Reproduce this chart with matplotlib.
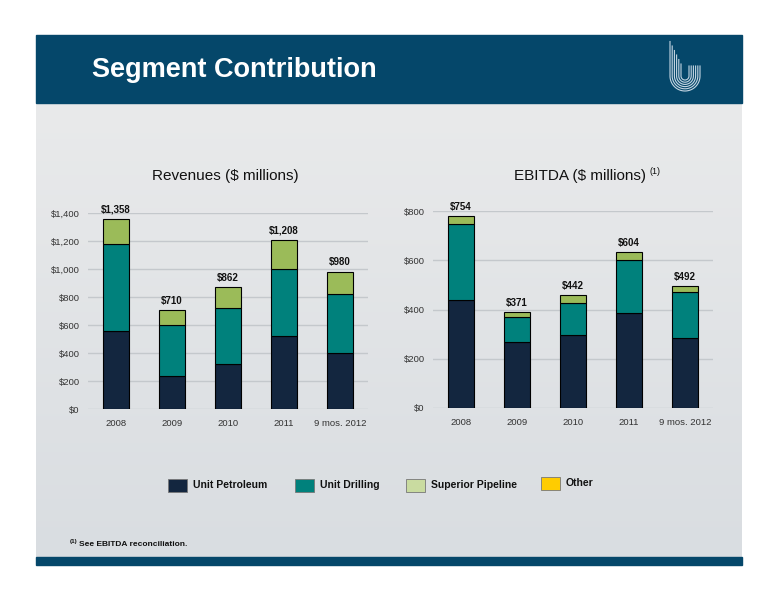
import numpy as np
import matplotlib.pyplot as plt
from matplotlib.patches import Rectangle
from matplotlib.colors import LinearSegmentedColormap

# data
years = ['2008', '2009', '2010', '2011', '9 mos. 2012']

rev_petroleum = [555, 236, 322, 520, 398]
rev_drilling = [623, 363, 398, 482, 422]
rev_pipeline = [182, 111, 155, 207, 163]
rev_labels = ['$1,358', '$710', '$862', '$1,208', '$980']

ebitda_petroleum = [440, 269, 298, 387, 283]
ebitda_drilling = [307, 99, 128, 214, 187]
ebitda_pipeline = [33, 22, 32, 33, 24]
ebitda_labels = ['$754', '$371', '$442', '$604', '$492']

rev_ticks = [0, 200, 400, 600, 800, 1000, 1200, 1400]
ebitda_ticks = [0, 200, 400, 600, 800]

legend_names = ['Unit Petroleum', 'Unit Drilling', 'Superior Pipeline', 'Other']

NAVY = '#13263f'
TEAL = '#00817c'
GREEN = '#9bbb59'
LIGHT_GREEN = '#c9dba0'
GOLD = '#ffcc00'
HEADER = '#05476a'

plt.rcParams['font.family'] = ['Liberation Sans', 'DejaVu Sans']

W, H = 776, 600
fig = plt.figure(figsize=(W / 100, H / 100), dpi=100)
fig.patch.set_facecolor('white')

# page background, drawn in pixel coordinates
bg = fig.add_axes([0, 0, 1, 1])
bg.set_xlim(0, W)
bg.set_ylim(H, 0)
bg.axis('off')

grad = np.linspace(0, 1, 200).reshape(-1, 1)
bg.imshow(grad, cmap=LinearSegmentedColormap.from_list('g', ['#e9eaeb', '#d9dde1']),
          extent=[36, 742, 557, 103], aspect='auto', zorder=0)
bg.add_patch(Rectangle((36, 35), 706, 68, color=HEADER, zorder=1))
bg.add_patch(Rectangle((36, 557), 706, 8, color=HEADER, zorder=1))
bg.text(92, 70, 'Segment Contribution', color='white', fontsize=19.5,
        fontweight='bold', va='center', ha='left', zorder=2)

# logo: nested U shapes
cx, cy = 685, 76
for i in range(6):
    r = 4 + i * 2.2
    t = np.linspace(np.pi, 2 * np.pi, 40)
    xs = np.concatenate([[cx - r, cx - r], cx + r * np.cos(t), [cx + r, cx + r]])
    ys = np.concatenate([[cy - 12 - i * 4.5, cy], cy - r * np.sin(t), [cy, cy - 10]])
    bg.plot(xs, ys, color='#c5d6e3', lw=0.8, zorder=2)

# chart titles
bg.text(225, 176, 'Revenues ($ millions)', fontsize=11, ha='center', va='center', color='#111111')
bg.text(580, 176, 'EBITDA ($ millions)', fontsize=11, ha='center', va='center', color='#111111')
bg.text(649, 171, '(1)', fontsize=6.5, ha='left', va='center', color='#111111')

# legend
leg_x = [168, 295, 406, 541]
leg_colors = [NAVY, TEAL, LIGHT_GREEN, GOLD]
leg_y = [485, 485, 485, 483]
for x, c, y, name in zip(leg_x, leg_colors, leg_y, legend_names):
    bg.add_patch(Rectangle((x, y - 6.5), 19, 13, facecolor=c, edgecolor='#777777', lw=0.6, zorder=2))
    bg.text(x + 25, y, name, fontsize=7.5, fontweight='bold', va='center', ha='left', color='#111111')

# footnote
bg.text(70, 541, '(1)', fontsize=4.5, fontweight='bold', va='center', color='#111111')
bg.text(79, 544, 'See EBITDA reconciliation.', fontsize=6, fontweight='bold', va='center', color='#111111')


def stacked(ax, petroleum, drilling, pipeline, labels, ticks):
    x = np.arange(len(years))
    p = np.array(petroleum)
    d = np.array(drilling)
    s = np.array(pipeline)
    kw = dict(width=0.48, edgecolor='black', linewidth=0.8, zorder=3)
    ax.bar(x, p, color=NAVY, **kw)
    ax.bar(x, d, bottom=p, color=TEAL, **kw)
    ax.bar(x, s, bottom=p + d, color=GREEN, **kw)
    for xi, top, lab in zip(x, p + d + s, labels):
        ax.annotate(lab, (xi, top), xytext=(0, 3), textcoords='offset points',
                    ha='center', va='bottom', fontsize=7, fontweight='bold',
                    color='#111111', annotation_clip=False)
    ax.set_xlim(-0.5, 4.5)
    ax.set_ylim(0, ticks[-1])
    ax.set_yticks(ticks)
    ax.set_yticklabels(['${:,}'.format(t) for t in ticks])
    ax.set_xticks(x)
    ax.set_xticklabels(years)
    ax.tick_params(length=0, labelsize=6.8, colors='#333333')
    ax.tick_params(axis='x', pad=7)
    ax.tick_params(axis='y', pad=6)
    ax.set_facecolor('none')
    for sp in ax.spines.values():
        sp.set_visible(False)
    ax.grid(axis='y', color='#c4c8cc', linewidth=1.0, zorder=0)
    ax.set_axisbelow(True)


ax1 = fig.add_axes([88 / W, 1 - 409 / H, 280 / W, (409 - 213.3) / H])
stacked(ax1, rev_petroleum, rev_drilling, rev_pipeline, rev_labels, rev_ticks)

ax2 = fig.add_axes([433 / W, 1 - 408 / H, 280 / W, (408 - 211) / H])
stacked(ax2, ebitda_petroleum, ebitda_drilling, ebitda_pipeline, ebitda_labels, ebitda_ticks)

fig.savefig('out.png', dpi=100)
